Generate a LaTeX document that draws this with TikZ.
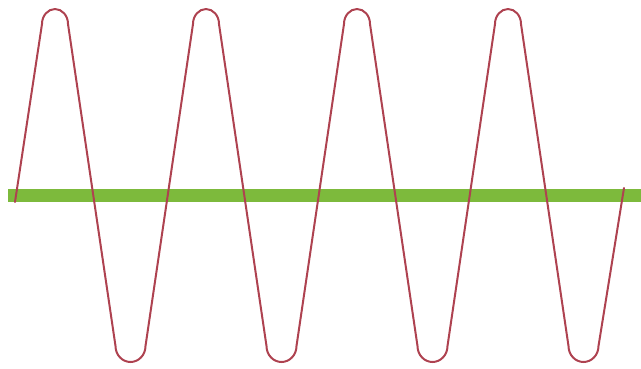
\documentclass[tikz,border=0pt]{standalone}
\usepackage{xcolor}
\usepackage{tikz}
\definecolor{wavered}{HTML}{AE4250}
\definecolor{barlime}{HTML}{7DBA3C}

\begin{document}
\begin{tikzpicture}[x=1pt, y=-1pt,
      groundbar/.style={draw=barlime, line width=13pt},
      wavecurve/.style={draw=wavered, line width=2pt, line join=round, line cap=round}]
    \useasboundingbox (0,0) rectangle (641,368);
    % horizontal bar
    \coordinate (barL) at (8,195);
    \coordinate (barR) at (641,195);
    \draw[groundbar] (barL) -- (barR);
    % zigzag with rounded caps, four periods
    \coordinate (wStart) at (15,202);
    \coordinate (wEnd) at (624,188);
    \draw[wavecurve] (wStart)
      foreach \k in {0,...,3}{
        -- ({42+151*\k},24) arc[start angle=180, end angle=360, x radius=13, y radius=15]
        -- ({115.5+151*\k},346) arc[start angle=180, end angle=0, x radius=15, y radius=16]
      } -- (wEnd);
  \end{tikzpicture}
\end{document}
